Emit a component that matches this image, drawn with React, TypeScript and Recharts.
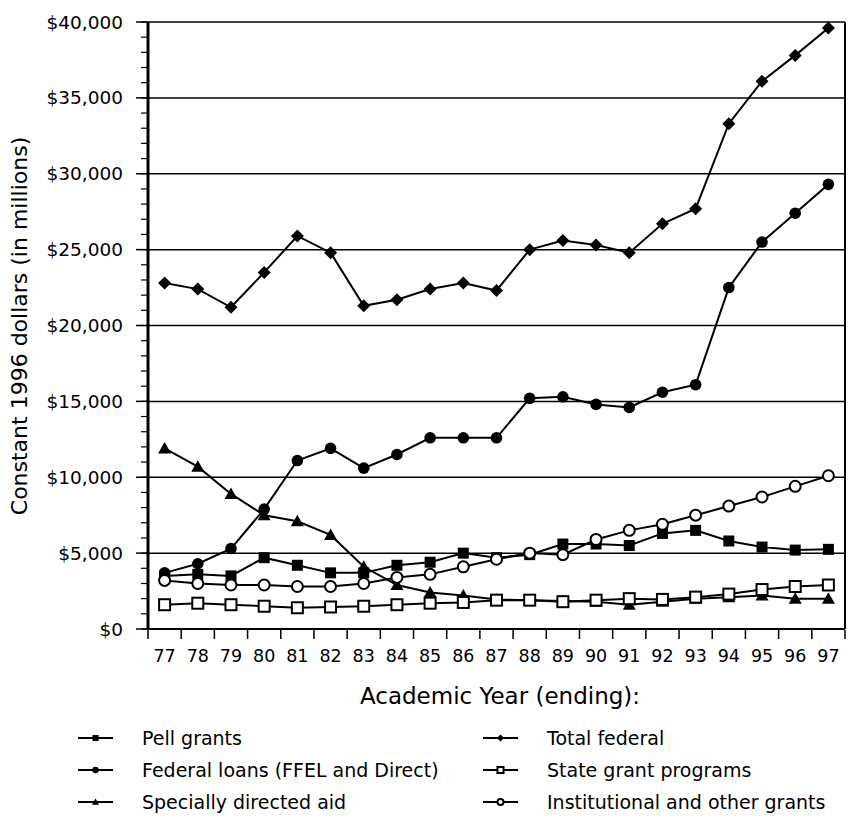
import React from 'react';
import { LineChart, Line, XAxis, YAxis, CartesianGrid, Label } from 'recharts';

const years = ['77', '78', '79', '80', '81', '82', '83', '84', '85', '86', '87', '88', '89', '90', '91', '92', '93', '94', '95', '96', '97'];
const totalFederal = [22800, 22400, 21200, 23500, 25900, 24800, 21300, 21700, 22400, 22800, 22300, 25000, 25600, 25300, 24800, 26700, 27700, 33300, 36100, 37800, 39600];
const federalLoans = [3700, 4300, 5300, 7900, 11100, 11900, 10600, 11500, 12600, 12600, 12600, 15200, 15300, 14800, 14600, 15600, 16100, 22500, 25500, 27400, 29300];
const speciallyDirected = [11900, 10700, 8900, 7500, 7100, 6200, 4100, 2900, 2400, 2200, 1950, 1900, 1850, 1800, 1600, 1800, 2000, 2100, 2200, 2000, 2000];
const pellGrants = [3500, 3600, 3500, 4700, 4200, 3700, 3700, 4200, 4400, 5000, 4700, 4900, 5600, 5600, 5500, 6300, 6500, 5800, 5400, 5200, 5250];
const stateGrants = [1600, 1700, 1600, 1500, 1400, 1450, 1500, 1600, 1700, 1750, 1900, 1900, 1800, 1900, 2000, 1950, 2100, 2300, 2600, 2800, 2900];
const institutionalGrants = [3200, 3000, 2900, 2900, 2800, 2800, 3000, 3400, 3600, 4100, 4600, 5000, 4900, 5900, 6500, 6900, 7500, 8100, 8700, 9400, 10100];

const yTicks = [0, 5000, 10000, 15000, 20000, 25000, 30000, 35000, 40000];
const minorTicks = Array.from({ length: 41 }, (_, i) => i * 1000);
const edgeTicks = Array.from({ length: years.length + 1 }, (_, i) => i);

const data = years.map((year, i) => ({
  year,
  edge: i + 0.5,
  total: totalFederal[i],
  loans: federalLoans[i],
  special: speciallyDirected[i],
  pell: pellGrants[i],
  state: stateGrants[i],
  inst: institutionalGrants[i],
}));

const FONT = '"DejaVu Sans", sans-serif';

type Shape = 'square' | 'circle' | 'triangle' | 'diamond' | 'hollowSquare' | 'hollowCircle';

const marker = (shape: Shape, cx: number, cy: number, s = 1) => {
  switch (shape) {
    case 'square':
      return <rect x={cx - 5.5 * s} y={cy - 5.5 * s} width={11 * s} height={11 * s} fill="#000" />;
    case 'circle':
      return <circle cx={cx} cy={cy} r={5.8 * s} fill="#000" />;
    case 'triangle':
      return <polygon points={`${cx},${cy - 6.5 * s} ${cx + 6.5 * s},${cy + 5 * s} ${cx - 6.5 * s},${cy + 5 * s}`} fill="#000" />;
    case 'diamond':
      return <polygon points={`${cx},${cy - 6.5 * s} ${cx + 6.5 * s},${cy} ${cx},${cy + 6.5 * s} ${cx - 6.5 * s},${cy}`} fill="#000" />;
    case 'hollowSquare':
      return <rect x={cx - 5.5 * s} y={cy - 5.5 * s} width={11 * s} height={11 * s} fill="#fff" stroke="#000" strokeWidth={2} />;
    case 'hollowCircle':
      return <circle cx={cx} cy={cy} r={5.5 * s} fill="#fff" stroke="#000" strokeWidth={2} />;
  }
};

const dotFor = (shape: Shape) => (props: any) => (
  <g key={`${shape}-${props.index}`}>{marker(shape, props.cx, props.cy)}</g>
);

const series: { key: string; name: string; shape: Shape }[] = [
  { key: 'total', name: 'Total federal', shape: 'diamond' },
  { key: 'loans', name: 'Federal loans (FFEL and Direct)', shape: 'circle' },
  { key: 'special', name: 'Specially directed aid', shape: 'triangle' },
  { key: 'pell', name: 'Pell grants', shape: 'square' },
  { key: 'state', name: 'State grant programs', shape: 'hollowSquare' },
  { key: 'inst', name: 'Institutional and other grants', shape: 'hollowCircle' },
];

const legendCols: string[][] = [
  ['pell', 'loans', 'special'],
  ['total', 'state', 'inst'],
];

const LegendItem = ({ k }: { k: string }) => {
  const s = series.find(x => x.key === k)!;
  return (
    <div style={{ display: 'flex', alignItems: 'center', height: 32 }}>
      <svg width={35} height={14} style={{ marginRight: 29 }}>
        <line x1={0} y1={7} x2={35} y2={7} stroke="#000" strokeWidth={2} />
        {marker(s.shape, 17.5, 7, 0.55)}
      </svg>
      <span>{s.name}</span>
    </div>
  );
};

// right frame line at the plot's right edge
const rightEdge = (p: any) => (p && p.offset ? [p.offset.left + p.offset.width] : []);

export default function App() {
  return (
    <div style={{ position: 'absolute', left: 0, top: 0, width: 867, height: 823, background: '#fff', fontFamily: FONT }}>
      <LineChart width={867} height={823} data={data} margin={{ top: 22, right: 0, left: 0, bottom: 135 }}>
        <CartesianGrid vertical={false} stroke="#000" strokeWidth={1.5} />
        <CartesianGrid horizontal={false} verticalCoordinatesGenerator={rightEdge} stroke="#000" strokeWidth={2} />
        <XAxis
          dataKey="year"
          scale="band"
          tickLine={false}
          axisLine={{ stroke: '#000', strokeWidth: 2 }}
          tick={{ fill: '#000', fontSize: 17.5, fontFamily: FONT }}
          tickMargin={15}
          height={1}
          interval={0}
        >
          <Label
            content={() => (
              <text x={500} y={704} textAnchor="middle" fontSize={23} fontFamily={FONT} fill="#000">
                Academic Year (ending):
              </text>
            )}
          />
        </XAxis>
        <XAxis
          xAxisId="edge"
          dataKey="edge"
          type="number"
          domain={[0, years.length]}
          ticks={edgeTicks}
          tickFormatter={() => ''}
          axisLine={false}
          tickSize={9}
          tickLine={{ stroke: '#000', strokeWidth: 1.5 }}
          height={58}
          allowDataOverflow
        />
        <YAxis
          domain={[0, 40000]}
          ticks={yTicks}
          tickFormatter={(v: number) => `$${v.toLocaleString('en-US')}`}
          axisLine={{ stroke: '#000', strokeWidth: 3 }}
          tickLine={{ stroke: '#000', strokeWidth: 1.5 }}
          tickSize={12}
          tickMargin={13}
          tick={{ fill: '#000', fontSize: 18.5, fontFamily: FONT }}
          width={1}
        >
          <Label
            content={() => (
              <text
                transform="translate(19,326) rotate(-90)"
                textAnchor="middle"
                dominantBaseline="central"
                fontSize={22}
                fontFamily={FONT}
                fill="#000"
              >
                Constant 1996 dollars (in millions)
              </text>
            )}
          />
        </YAxis>
        <YAxis
          yAxisId="minor"
          dataKey="total"
          domain={[0, 40000]}
          allowDataOverflow
          ticks={minorTicks}
          tickFormatter={() => ''}
          axisLine={false}
          tickSize={6}
          tickLine={{ stroke: '#000', strokeWidth: 1.2 }}
          width={147}
        />
        <YAxis
          yAxisId="right"
          orientation="right"
          dataKey="total"
          domain={[0, 40000]}
          allowDataOverflow
          ticks={[0, 40000]}
          tickFormatter={() => ''}
          tickLine={false}
          axisLine={{ stroke: '#000', strokeWidth: 2 }}
          width={22}
        />
        {series.map(s => (
          <Line
            key={s.key}
            dataKey={s.key}
            name={s.name}
            stroke="#000"
            strokeWidth={2}
            dot={dotFor(s.shape)}
            activeDot={false}
            isAnimationActive={false}
          />
        ))}
      </LineChart>
      <div style={{ position: 'absolute', left: 78, top: 722, display: 'flex', fontSize: 19, color: '#000' }}>
        {legendCols.map((col, ci) => (
          <div key={ci} style={{ width: ci === 0 ? 405 : 390 }}>
            {col.map(k => (
              <LegendItem key={k} k={k} />
            ))}
          </div>
        ))}
      </div>
    </div>
  );
}
